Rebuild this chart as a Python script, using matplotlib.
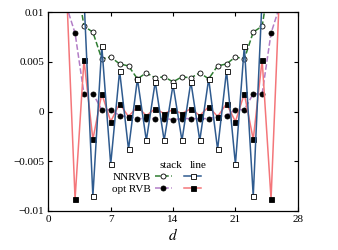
import matplotlib
matplotlib.use("Agg")
import matplotlib.pyplot as plt
import numpy as np

plt.rcParams['font.family'] = ['Liberation Serif', 'DejaVu Serif']
plt.rcParams['mathtext.fontset'] = 'stix'

# data (symmetric about d = 14)
d_stack_nn = list(range(3, 26))
stack_nnrvb = [0.0142, 0.0086, 0.0080, 0.0053, 0.0055, 0.0048, 0.0046, 0.0033, 0.0039, 0.0034, 0.0035, 0.0030,
               0.0035, 0.0034, 0.0039, 0.0033, 0.0046, 0.0048, 0.0055, 0.0053, 0.0080, 0.0086, 0.0142]

d_line_nn = list(range(4, 25))
line_nnrvb = [0.0115, -0.0085, 0.0066, -0.0053, 0.0041, -0.0038, 0.0033, -0.0029, 0.0030, -0.0029, 0.0027,
              -0.0029, 0.0030, -0.0029, 0.0033, -0.0038, 0.0041, -0.0053, 0.0066, -0.0085, 0.0115]

d_stack_opt = list(range(2, 27))
stack_opt = [0.0107, 0.0079, 0.0018, 0.0018, 0.0002, 0.0002, -0.0004, -0.0005, -0.0007, -0.0007, -0.0007, -0.0007,
             -0.0008, -0.0007, -0.0007, -0.0007, -0.0007, -0.0005, -0.0004, 0.0002, 0.0002, 0.0018, 0.0018,
             0.0079, 0.0107]

d_line_opt = list(range(2, 27))
line_opt = [0.0133, -0.0088, 0.0052, -0.0028, 0.0018, -0.0010, 0.0008, -0.0005, 0.0005, -0.0004, 0.0003, -0.0002,
            0.0002, -0.0002, 0.0003, -0.0004, 0.0005, -0.0005, 0.0008, -0.0010, 0.0018, -0.0028, 0.0052,
            -0.0088, 0.0133]

xticks = [0, 7, 14, 21, 28]
yticks = [-0.01, -0.005, 0, 0.005, 0.01]
yticklabels = ['\u22120.01', '\u22120.005', '0', '0.005', '0.01']

c_green = '#2f7d32'
c_blue = '#2f5b8f'
c_red = '#f4767a'
c_purple = '#b27cc6'

fig = plt.figure(figsize=(3.38, 2.5), dpi=100)
ax = fig.add_axes([0.143, 0.156, 0.738, 0.795])

ms = 3.6
lw = 1.1
h_sp, = ax.plot(d_stack_opt, stack_opt, ls='--', color=c_purple, lw=lw, marker='o', ms=ms,
                mfc='black', mec='black', mew=0.6)
h_lo, = ax.plot(d_line_opt, line_opt, ls='-', color=c_red, lw=lw, marker='s', ms=ms,
                mfc='black', mec='black', mew=0.6)
h_sn, = ax.plot(d_stack_nn, stack_nnrvb, ls='--', color=c_green, lw=lw, marker='o', ms=ms,
                mfc='white', mec='black', mew=0.6)
h_ln, = ax.plot(d_line_nn, line_nnrvb, ls='-', color=c_blue, lw=lw, marker='s', ms=ms,
                mfc='white', mec='black', mew=0.6)

ax.set_xlim(0, 28)
ax.set_ylim(-0.01, 0.01)
ax.set_xticks(xticks)
ax.set_yticks(yticks)
ax.set_yticklabels(yticklabels)
ax.tick_params(direction='in', top=True, right=True, labelsize=8, length=3, width=0.8, pad=3)
for s in ax.spines.values():
    s.set_linewidth(0.9)
ax.set_xlabel('$d$', fontsize=11, labelpad=2)

leg = ax.legend([h_sn, h_sp, h_ln, h_lo], ['NNRVB', 'opt RVB', '', ''], ncol=2, markerfirst=False,
                frameon=False, fontsize=8, loc='lower right', bbox_to_anchor=(0.643, 0.045),
                handlelength=1.5, handletextpad=0.4, columnspacing=0.75, labelspacing=0.25,
                borderpad=0.2)
ax.text(0.492, 0.228, 'stack', transform=ax.transAxes, fontsize=8, ha='center', va='center')
ax.text(0.6, 0.228, 'line', transform=ax.transAxes, fontsize=8, ha='center', va='center')

fig.savefig('out.png', dpi=100)
